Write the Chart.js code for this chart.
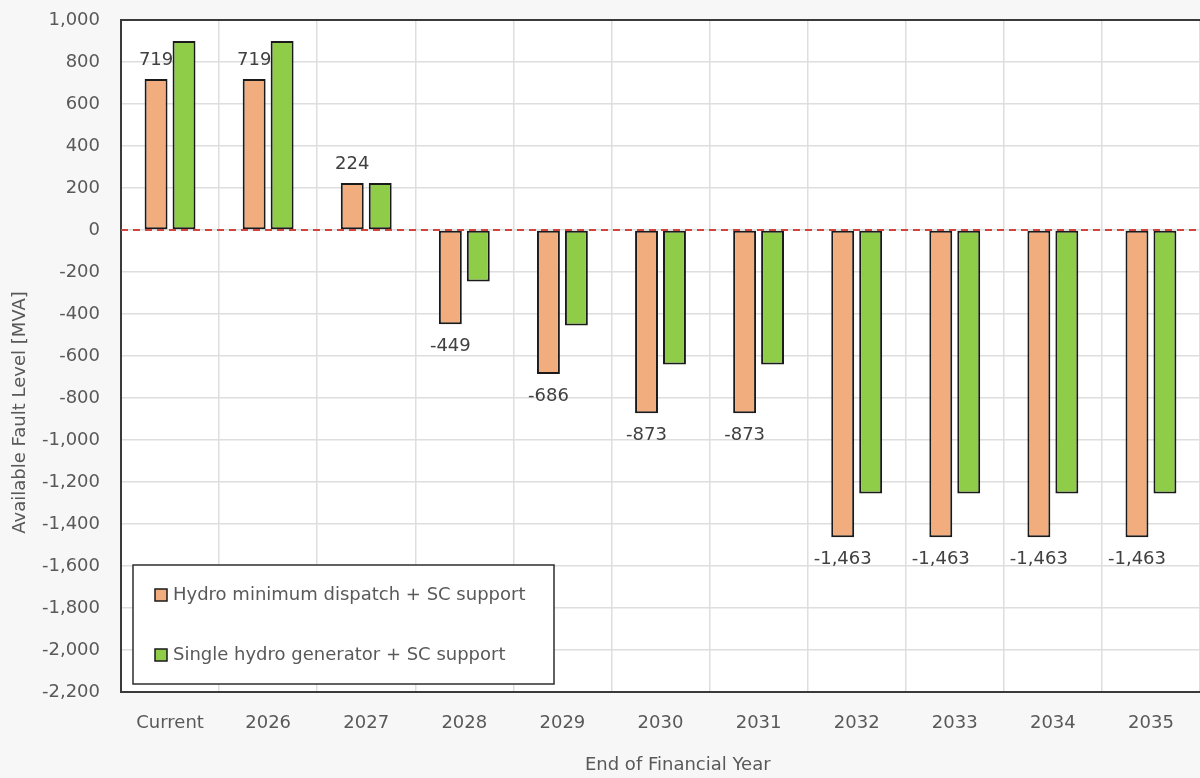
<!DOCTYPE html>
<html>
<head>
<meta charset="utf-8">
<script src="https://cdn.jsdelivr.net/npm/chart.js@4/dist/chart.umd.min.js"></script>
<style>
  html, body { margin: 0; padding: 0; background: #f7f7f7; overflow: hidden; }
  #wrap { width: 1200px; height: 778px; position: relative; }
</style>
</head>
<body>
<div id="wrap"><canvas id="chart" width="1200" height="778"></canvas></div>
<script>
// Categories (end of financial year) and available fault level per scenario [MVA]
const years = ['Current', '2026', '2027', '2028', '2029', '2030', '2031', '2032', '2033', '2034', '2035'];
const hydroMinDispatch = [719, 719, 224, -449, -686, -873, -873, -1463, -1463, -1463, -1463];
const singleHydroGen = [900, 900, 224, -245, -455, -640, -640, -1255, -1255, -1255, -1255];
const seriesNames = ['Hydro minimum dispatch + SC support', 'Single hydro generator + SC support'];
const xTitle = 'End of Financial Year';
const yTitle = 'Available Fault Level [MVA]';
const yMin = -2200, yMax = 1000, yStep = 200;

const FONT = 'DejaVu Sans';
const TEXT = '#595959';
const FONT_SIZE = 18;

// White plot background, dark frame on left/top/bottom
const plotFrame = {
  id: 'plotFrame',
  beforeDraw(chart) {
    const { ctx, chartArea: a } = chart;
    ctx.save();
    ctx.fillStyle = '#ffffff';
    ctx.fillRect(a.left, a.top, a.right - a.left, a.bottom - a.top);
    ctx.restore();
  },
  beforeDatasetsDraw(chart) {
    const { ctx, chartArea: a } = chart;
    ctx.save();
    ctx.strokeStyle = '#3a3a3a';
    ctx.lineWidth = 2;
    ctx.beginPath();
    ctx.moveTo(a.right + 2, a.top);
    ctx.lineTo(a.left, a.top);
    ctx.lineTo(a.left, a.bottom);
    ctx.lineTo(a.right + 2, a.bottom);
    ctx.stroke();
    ctx.restore();
  }
};

// Dashed zero line and value labels on the first series
const overlays = {
  id: 'overlays',
  afterDatasetsDraw(chart) {
    const { ctx, chartArea: a, scales } = chart;
    const y0 = scales.y.getPixelForValue(0);
    ctx.save();
    ctx.strokeStyle = '#d2453f';
    ctx.lineWidth = 2;
    ctx.setLineDash([7, 5]);
    ctx.beginPath();
    ctx.moveTo(a.left, y0);
    ctx.lineTo(a.right, y0);
    ctx.stroke();
    ctx.setLineDash([]);

    const meta = chart.getDatasetMeta(0);
    ctx.font = FONT_SIZE + 'px "' + FONT + '"';
    ctx.fillStyle = '#404040';
    ctx.textAlign = 'center';
    ctx.textBaseline = 'middle';
    meta.data.forEach((bar, i) => {
      const v = chart.data.datasets[0].data[i];
      const y = v >= 0 ? bar.y - 19 : bar.y + 22;
      ctx.fillText(v.toLocaleString('en-US'), bar.x, y);
    });
    ctx.restore();
  }
};

// Axis titles, placed off-centre like the original layout
const axisTitles = {
  id: 'axisTitles',
  afterDraw(chart) {
    const { ctx, chartArea: a } = chart;
    ctx.save();
    ctx.font = FONT_SIZE + 'px "' + FONT + '"';
    ctx.fillStyle = TEXT;
    ctx.textAlign = 'center';
    ctx.textBaseline = 'middle';
    ctx.fillText(xTitle, a.left + (a.right - a.left) * 0.516, 765);
    ctx.translate(20, a.top + (a.bottom - a.top) * 0.584);
    ctx.rotate(-Math.PI / 2);
    ctx.fillText(yTitle, 0, 0);
    ctx.restore();
  }
};

// Boxed legend inside the plot area
const boxLegend = {
  id: 'boxLegend',
  afterDraw(chart) {
    const { ctx, chartArea: a } = chart;
    const x = a.left + 12, y = 565, w = 421, h = 119;
    ctx.save();
    ctx.fillStyle = '#ffffff';
    ctx.fillRect(x, y, w, h);
    ctx.strokeStyle = '#2e2e2e';
    ctx.lineWidth = 1.5;
    ctx.strokeRect(x, y, w, h);
    ctx.font = FONT_SIZE + 'px "' + FONT + '"';
    ctx.textBaseline = 'middle';
    ctx.textAlign = 'left';
    chart.data.datasets.forEach((ds, i) => {
      const cy = y + 30 + i * 60;
      ctx.fillStyle = ds.backgroundColor;
      ctx.fillRect(x + 22, cy - 6, 12, 12);
      ctx.strokeStyle = '#1a1a1a';
      ctx.lineWidth = 1.5;
      ctx.strokeRect(x + 22, cy - 6, 12, 12);
      ctx.fillStyle = TEXT;
      ctx.fillText(ds.label, x + 40, cy);
    });
    ctx.restore();
  }
};

new Chart(document.getElementById('chart'), {
  type: 'bar',
  data: {
    labels: years,
    datasets: [
      {
        label: seriesNames[0],
        data: hydroMinDispatch,
        backgroundColor: '#f2ad7e',
        borderColor: '#1a1a1a',
        borderWidth: 2,
        borderSkipped: false
      },
      {
        label: seriesNames[1],
        data: singleHydroGen,
        backgroundColor: '#8fcd48',
        borderColor: '#1a1a1a',
        borderWidth: 2,
        borderSkipped: false
      }
    ]
  },
  options: {
    responsive: false,
    animation: false,
    devicePixelRatio: 1,
    categoryPercentage: 0.57,
    barPercentage: 0.82,
    layout: { padding: { top: 20, right: 0, left: 0, bottom: 0 } },
    plugins: {
      legend: { display: false },
      tooltip: { enabled: false }
    },
    scales: {
      x: {
        offset: true,
        grid: { color: '#dedede', lineWidth: 1.5, drawTicks: false, offset: true },
        border: { display: false },
        ticks: { color: TEXT, font: { family: FONT, size: FONT_SIZE }, padding: 21, maxRotation: 0 },
        afterFit(scale) { scale.height = 86; }
      },
      y: {
        min: yMin,
        max: yMax,
        ticks: {
          stepSize: yStep,
          color: TEXT,
          font: { family: FONT, size: FONT_SIZE },
          padding: 21
        },
        grid: { color: '#dedede', lineWidth: 1.5, drawTicks: false },
        border: { display: false },
        afterFit(scale) {
          scale.width = 121;
          scale.paddingTop = 0;
          scale.paddingBottom = 0;
        }
      }
    }
  },
  plugins: [plotFrame, overlays, axisTitles, boxLegend]
});
</script>
</body>
</html>
